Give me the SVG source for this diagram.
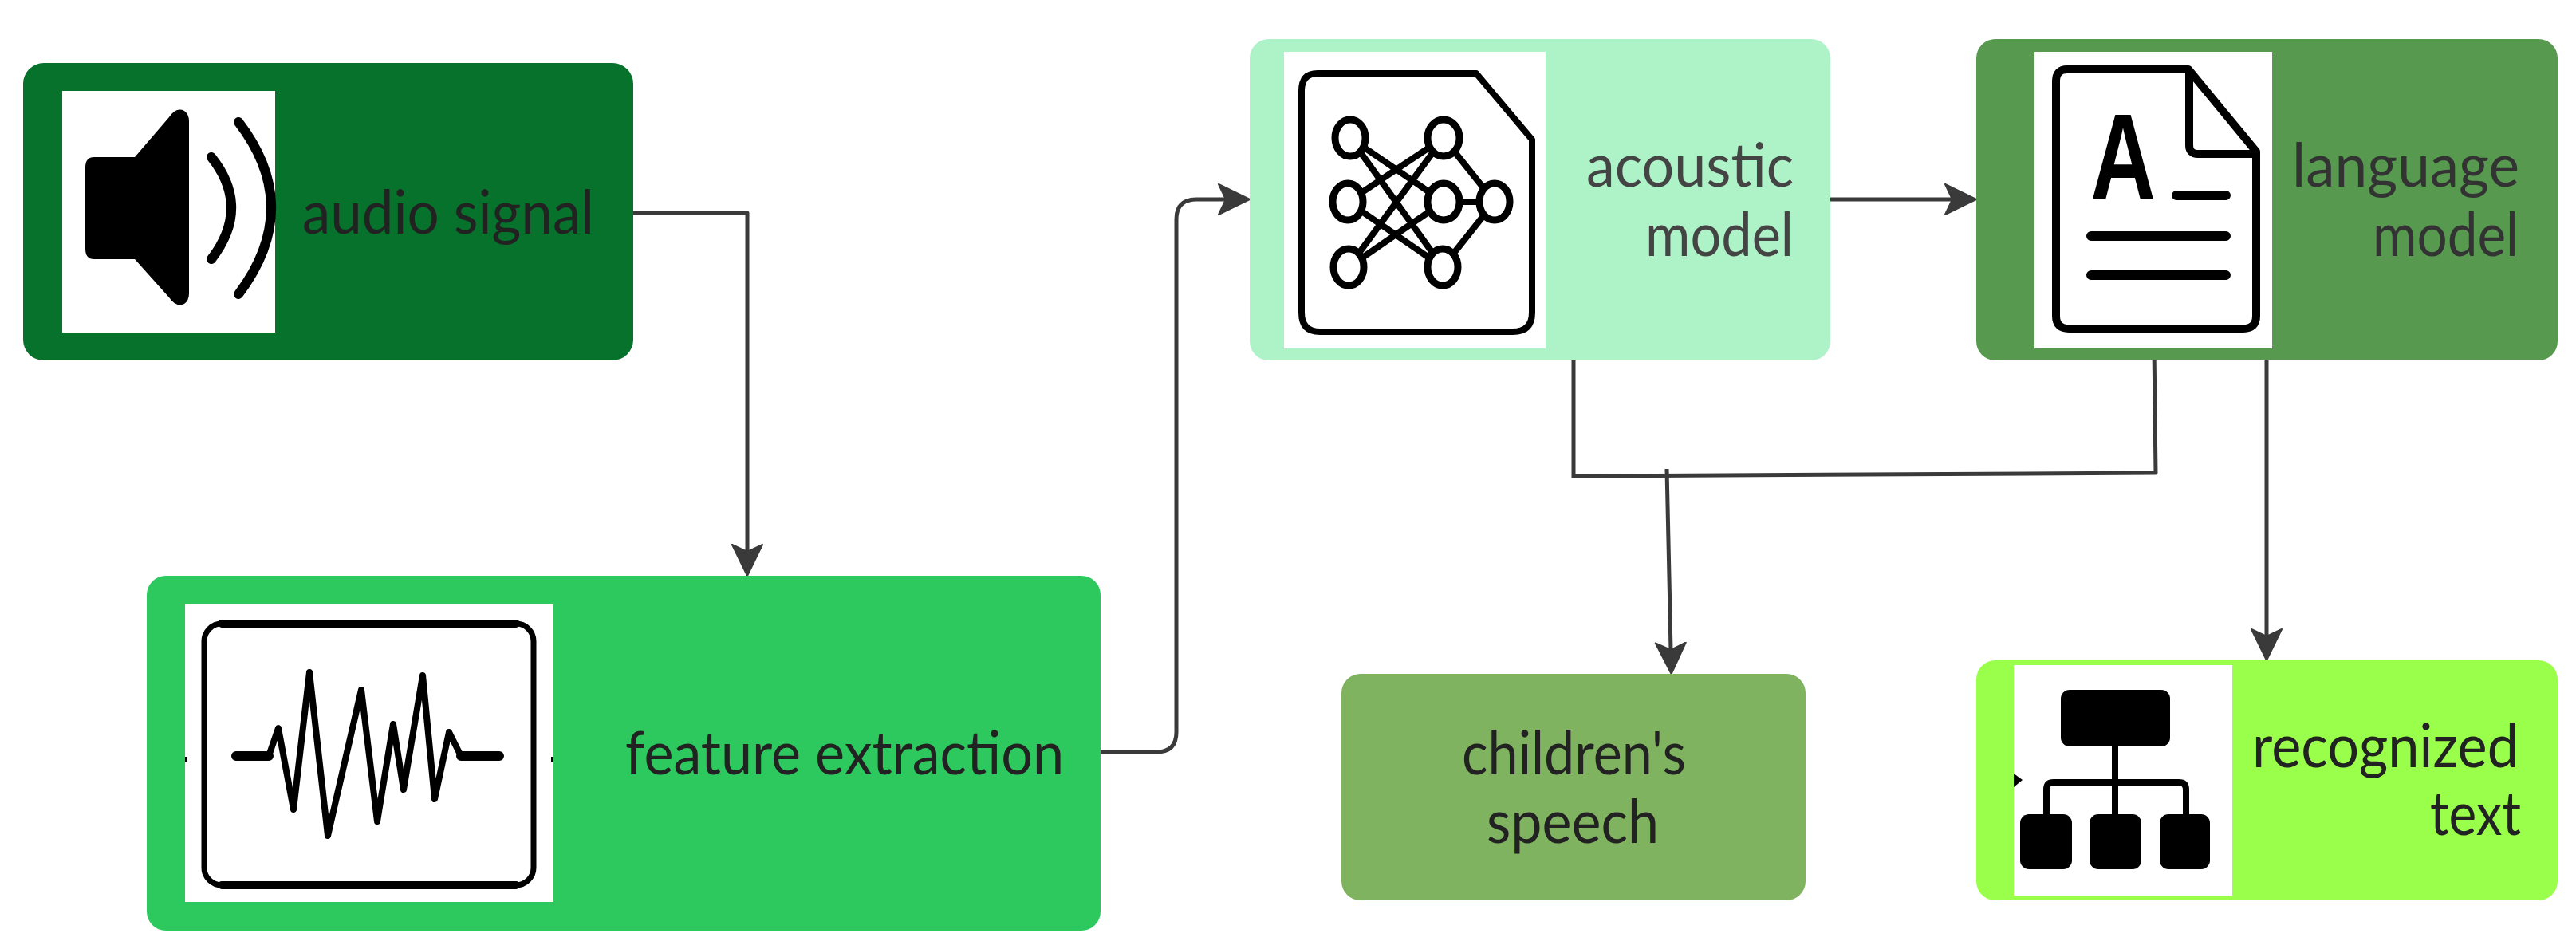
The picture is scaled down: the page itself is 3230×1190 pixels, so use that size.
<svg xmlns="http://www.w3.org/2000/svg" width="3230" height="1190" viewBox="0 0 3230 1190">
<style>
.box{stroke:none}
.white{fill:#fff}
.t{font-family:"Lato","Liberation Sans",sans-serif;font-size:76px;fill:#222}
.ic{fill:none;stroke:#000;stroke-linecap:round;stroke-linejoin:round}
.k{fill:#000}
.c{fill:none;stroke:#3a3a3a;stroke-width:5;stroke-linejoin:round}
</style>
<defs>
<marker id="arrow" markerUnits="userSpaceOnUse" markerWidth="44" markerHeight="44" refX="10" refY="22" orient="auto">
<path d="M1 3 L40 22 L1 41 L10 22Z" fill="#3a3a3a" stroke="#3a3a3a" stroke-width="2" stroke-linejoin="round"/>
</marker>
</defs>
<rect width="3230" height="1190" fill="#fff"/>

<g id="connectors">
<path class="c" d="M794 267H937V692" marker-end="url(#arrow)"/>
<path class="c" d="M1380 943H1450Q1475 943 1475 918V275Q1475 250 1500 250H1537" marker-end="url(#arrow)"/>
<path class="c" d="M2295 250H2448" marker-end="url(#arrow)"/>
<path class="c" d="M1973 452V600"/>
<path class="c" d="M1973 597L2703 593L2701 437"/>
<path class="c" d="M2090 588L2095 815" marker-end="url(#arrow)"/>
<path class="c" d="M2842 452V798" marker-end="url(#arrow)"/>
</g>

<g id="audio-signal">
<rect class="box" x="29" y="79" width="765" height="373" rx="26" fill="#06722b"/>
<rect class="white" x="78" y="114" width="267" height="303"/>
<path class="k" d="M118 197H169L212 147Q221 134 231 139Q237 143 237 152V368Q237 377 231 381Q221 386 212 373L169 325H118Q107 325 107 312V210Q107 197 118 197Z"/>
<path class="ic" stroke-width="12" d="M265 197Q315 260 265 325"/>
<path class="ic" stroke-width="12" d="M299 153Q381 260 299 369"/>
<text class="t" x="379" y="293" textLength="366" lengthAdjust="spacingAndGlyphs">audio signal</text>
</g>

<g id="feature-extraction">
<rect class="box" x="184" y="722" width="1196" height="445" rx="24" fill="#2dc95e"/>
<rect class="white" x="232" y="758" width="462" height="373"/>
<rect class="ic" x="256" y="782" width="413" height="328" rx="22" stroke-width="7"/>
<path class="ic" stroke-width="10" d="M278 782H647M278 1110H647"/>
<path class="ic" stroke-width="8" d="M337 948L349 913L368 1015L388 843L411 1048L453 865L473 1030L493 908L506 990L530 847L545 1002L563 918L578 948"/>
<path class="ic" stroke-width="12" d="M296 948H337M578 948H626"/>
<rect class="k" x="232" y="949" width="3" height="6"/>
<rect class="k" x="691" y="949" width="3" height="7"/>
<text class="t" x="784" y="971" textLength="550" lengthAdjust="spacingAndGlyphs">feature extraction</text>
</g>

<g id="acoustic-model">
<rect class="box" x="1567" y="49" width="728" height="403" rx="24" fill="#aef2c8"/>
<rect class="white" x="1610" y="65" width="328" height="372"/>
<path class="ic" stroke-width="8" d="M1652 92H1851L1921 175V392Q1921 416 1897 416H1655Q1632 416 1632 392V114Q1632 92 1652 92Z"/>
<path class="ic" stroke-width="8" d="M1693 173L1810 253M1693 173L1809 335M1690 253L1810 173M1690 253L1809 335M1691 335L1810 173M1691 335L1810 253M1810 173L1874 253M1810 253H1874M1809 335L1874 253"/>
<g fill="#fff" stroke="#000" stroke-width="9">
<ellipse cx="1693" cy="173" rx="19" ry="23"/>
<ellipse cx="1810" cy="173" rx="20" ry="23"/>
<ellipse cx="1690" cy="253" rx="19" ry="23"/>
<ellipse cx="1810" cy="253" rx="20" ry="23"/>
<ellipse cx="1874" cy="253" rx="19" ry="23"/>
<ellipse cx="1691" cy="335" rx="19" ry="23"/>
<ellipse cx="1809" cy="335" rx="19" ry="23"/>
</g>
<text class="t" x="1989" y="234" textLength="260" lengthAdjust="spacingAndGlyphs" style="fill:#444">acoustic</text>
<text class="t" x="2063" y="321" textLength="186" lengthAdjust="spacingAndGlyphs" style="fill:#444">model</text>
</g>

<g id="language-model">
<rect class="box" x="2478" y="49" width="729" height="403" rx="24" fill="#56994f"/>
<rect class="white" x="2551" y="65" width="298" height="372"/>
<path class="ic" stroke-width="10" d="M2592 87H2744L2829 190V396Q2829 412 2813 412H2594Q2578 412 2578 396V102Q2578 87 2592 87Z"/>
<path class="ic" stroke-width="10" d="M2745 90V182Q2745 193 2756 193H2829"/>
<text x="2621" y="250" font-family="Liberation Sans, sans-serif" font-weight="700" font-size="154" textLength="82" lengthAdjust="spacingAndGlyphs" fill="#000">A</text>
<path class="ic" stroke-width="12" d="M2729 245H2791M2622 296H2791M2622 345H2791"/>
<text class="t" x="2874" y="234" textLength="285" lengthAdjust="spacingAndGlyphs" style="fill:#333">language</text>
<text class="t" x="2975" y="321" textLength="183" lengthAdjust="spacingAndGlyphs" style="fill:#333">model</text>
</g>

<g id="childrens-speech">
<rect class="box" x="1682" y="845" width="582" height="284" rx="24" fill="#7fb35f"/>
<text class="t" x="1833" y="971" textLength="281" lengthAdjust="spacingAndGlyphs">children's</text>
<text class="t" x="1864" y="1057" textLength="216" lengthAdjust="spacingAndGlyphs">speech</text>
</g>

<g id="recognized-text">
<rect class="box" x="2478" y="828" width="729" height="301" rx="24" fill="#99ff4a"/>
<rect class="white" x="2525" y="834" width="274" height="289"/>
<rect class="k" x="2584" y="865" width="137" height="71" rx="11"/>
<path class="ic" stroke-width="8" d="M2652 934V1022M2566 1022V990Q2566 981 2575 981H2732Q2741 981 2741 990V1022"/>
<rect class="k" x="2533" y="1021" width="65" height="69" rx="11"/>
<rect class="k" x="2620" y="1021" width="65" height="69" rx="11"/>
<rect class="k" x="2708" y="1021" width="63" height="69" rx="11"/>
<path class="k" d="M2525 970L2536 978L2525 987Z"/>
<text class="t" x="2824" y="962" textLength="334" lengthAdjust="spacingAndGlyphs">recognized</text>
<text class="t" x="3047" y="1047" textLength="114" lengthAdjust="spacingAndGlyphs">text</text>
</g>
</svg>
